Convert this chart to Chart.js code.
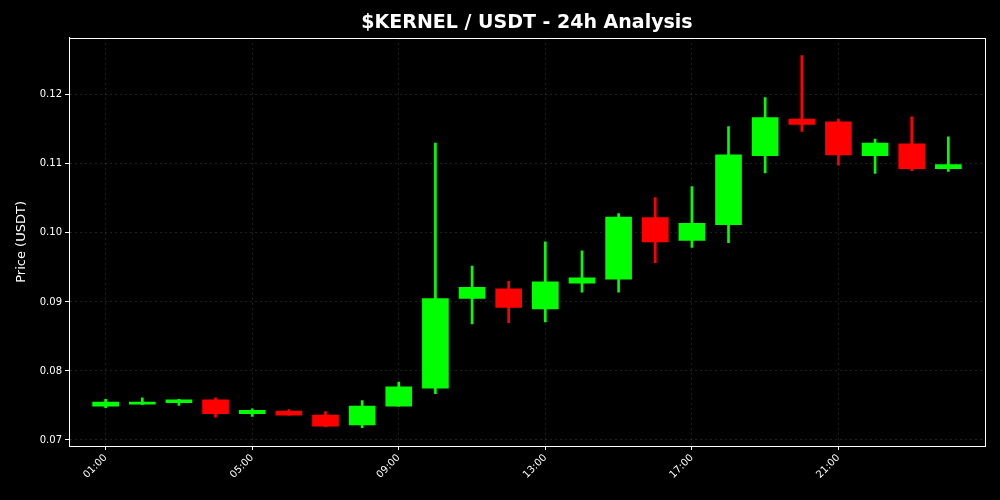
<!DOCTYPE html>
<html>
<head>
<meta charset="utf-8">
<script src="https://cdn.jsdelivr.net/npm/chart.js@4/dist/chart.umd.min.js"></script>
<style>
  html, body { margin: 0; padding: 0; background: #000; }
  canvas { display: block; }
</style>
</head>
<body>
<canvas id="candles" width="1000" height="500"></canvas>
<script>
// hourly candles
const hours = ['01:00','02:00','03:00','04:00','05:00','06:00','07:00','08:00',
               '09:00','10:00','11:00','12:00','13:00','14:00','15:00','16:00',
               '17:00','18:00','19:00','20:00','21:00','22:00','23:00','00:00'];
const opens  = [0.0749,0.0752,0.0754,0.0758,0.0738,0.0742,0.0736,0.0722,
                0.0749,0.0775,0.0905,0.0919,0.0890,0.0927,0.0933,0.1022,
                0.0989,0.1012,0.1112,0.1165,0.1161,0.1112,0.1129,0.1093];
const closes = [0.0755,0.0755,0.0758,0.0738,0.0743,0.0736,0.0720,0.0749,
                0.0777,0.0905,0.0921,0.0892,0.0929,0.0935,0.1023,0.0987,
                0.1014,0.1113,0.1167,0.1157,0.1113,0.1130,0.1093,0.1099];
const highs  = [0.0759,0.0761,0.0759,0.0761,0.0745,0.0744,0.0741,0.0757,
                0.0784,0.1130,0.0952,0.0930,0.0987,0.0974,0.1028,0.1051,
                0.1067,0.1154,0.1196,0.1257,0.1165,0.1136,0.1168,0.1139];
const lows   = [0.0747,0.0751,0.0750,0.0733,0.0734,0.0736,0.0719,0.0718,
                0.0749,0.0767,0.0868,0.0870,0.0871,0.0914,0.0914,0.0957,
                0.0979,0.0986,0.1087,0.1147,0.1098,0.1086,0.1090,0.1089];
const xTicks = [0, 4, 8, 12, 16, 20];
const yTicks = [0.07, 0.08, 0.09, 0.10, 0.11, 0.12];

const UP = '#00ff00', DOWN = '#ff0000';
const colours = opens.map((o, i) => closes[i] >= o ? UP : DOWN);

const font = 'DejaVu Sans';

// matplotlib style box round the plot
const frame = {
  id: 'frame',
  afterDraw(chart) {
    const a = chart.chartArea, ctx = chart.ctx;
    ctx.save();
    ctx.strokeStyle = '#fff';
    ctx.lineWidth = 1;
    ctx.strokeRect(Math.round(a.left) + 0.5, Math.round(a.top) + 0.5,
                   Math.round(a.right - a.left), Math.round(a.bottom - a.top));
    ctx.restore();
  }
};

new Chart(document.getElementById('candles'), {
  type: 'bar',
  data: {
    datasets: [
      {
        label: 'body',
        data: hours.map((h, i) => ({ x: i, y: [opens[i], closes[i]] })),
        backgroundColor: colours,
        barThickness: 26,
        grouped: false,
        order: 1
      },
      {
        label: 'wick',
        data: hours.map((h, i) => ({ x: i, y: [lows[i], highs[i]] })),
        backgroundColor: colours,
        barThickness: 2,
        grouped: false,
        order: 2
      }
    ]
  },
  options: {
    responsive: false,
    animation: false,
    layout: { padding: { left: 10, right: 15, top: 0, bottom: 0 } },
    plugins: {
      legend: { display: false },
      tooltip: { enabled: false },
      title: {
        display: true,
        text: '$KERNEL / USDT - 24h Analysis',
        color: '#fff',
        fullSize: false,
        font: { family: font, size: 19, weight: 'bold' },
        padding: { top: 12, bottom: 3 }
      }
    },
    scales: {
      x: {
        type: 'linear',
        min: -1,
        max: 24,
        offset: false,
        afterFit(s) { s.height = 54; },
        afterBuildTicks(s) { s.ticks = xTicks.map(v => ({ value: v })); },
        ticks: {
          color: '#fff',
          font: { family: font, size: 10 },
          minRotation: 45,
          maxRotation: 45,
          padding: 2,
          callback: v => hours[v]
        },
        grid: { offset: false, color: 'rgba(255,255,255,0.12)', tickColor: '#fff', tickLength: 4 },
        border: { color: '#fff', dash: [2, 3] }
      },
      y: {
        min: 0.06913,
        max: 0.12826,
        afterFit(s) { s.width = 59; },
        afterBuildTicks(s) { s.ticks = yTicks.map(v => ({ value: v })); },
        ticks: {
          color: '#fff',
          font: { family: font, size: 10 },
          padding: 3,
          callback: v => v.toFixed(2)
        },
        title: {
          display: true,
          text: 'Price (USDT)',
          color: '#fff',
          font: { family: font, size: 13 },
          padding: { top: 4, bottom: 4 }
        },
        grid: { color: 'rgba(255,255,255,0.12)', tickColor: '#fff', tickLength: 4 },
        border: { color: '#fff', dash: [2, 3] }
      }
    }
  },
  plugins: [frame]
});
</script>
</body>
</html>
